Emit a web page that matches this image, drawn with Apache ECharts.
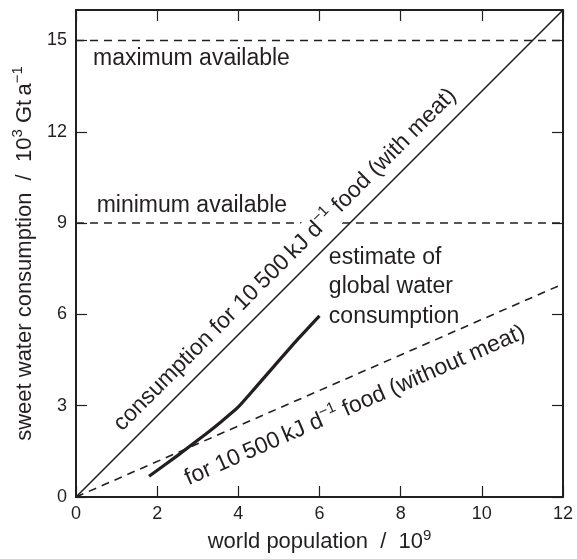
<!DOCTYPE html>
<html><head><meta charset="utf-8">
<script src="https://cdn.jsdelivr.net/npm/echarts@6/dist/echarts.min.js"></script>
<style>html,body{margin:0;padding:0;background:#fff}#c{width:577px;height:559px}</style>
</head><body><div id="c"></div>
<script>
// ---- data ----
const xTicks = [0, 2, 4, 6, 8, 10, 12];
const yTicks = [0, 3, 6, 9, 12, 15];
const xRange = [0, 12];
const yRange = [0, 16];
const withMeatPop = [0, 12];
const withMeatWater = [0, 16];
const withoutMeatPop = [0, 12];
const withoutMeatWater = [0, 7];
const availablePop = [0, 12];
const maxAvailable = [15, 15];
const minAvailable = [9, 9];
const estimatePop = [1.8, 2.5, 3.2, 3.6, 4.0, 4.4, 4.85, 5.45, 6.0];
const estimateWater = [0.68, 1.36, 2.07, 2.5, 2.96, 3.56, 4.25, 5.16, 5.95];

const INK = '#231f20';
const FONT = "'Liberation Sans', Arial, Helvetica, sans-serif";
const zip = (a, b) => a.map((v, i) => [v, b[i]]);

const richBase = {
  a: { fontSize: 23, fontFamily: FONT, color: INK, fill: INK },
  s: { fontSize: 15, fontFamily: FONT, color: INK, fill: INK, padding: [0, 0, 14, 0] }
};
const richAxis = {
  a: { fontSize: 22, fontFamily: FONT, color: INK },
  s: { fontSize: 15, fontFamily: FONT, color: INK, padding: [0, 0, 14, 0] }
};

function axisCommon(extra) {
  return Object.assign({
    type: 'value',
    axisLine: { show: true, onZero: false, lineStyle: { color: INK, width: 2 } },
    splitLine: { show: false }
  }, extra);
}

const chart = echarts.init(document.getElementById('c'), null, { renderer: 'canvas' });
const option = {
  animation: false,
  backgroundColor: '#fff',
  grid: { left: 76, right: 14, top: 10, bottom: 62 },
  xAxis: [
    axisCommon({
      position: 'bottom', min: xRange[0], max: xRange[1], interval: 2,
      axisTick: { inside: true, length: 11, customValues: xTicks, lineStyle: { color: INK, width: 1.2 } },
      axisLabel: { customValues: xTicks, fontSize: 18, fontFamily: FONT, color: INK, margin: 8 },
      name: '{a|world population  /  10}{s|9}',
      nameLocation: 'middle', nameGap: 26,
      nameTextStyle: { rich: richAxis }
    }),
    axisCommon({
      position: 'top', min: xRange[0], max: xRange[1], interval: 2,
      axisTick: { inside: true, length: 11, customValues: xTicks, lineStyle: { color: INK, width: 1.2 } },
      axisLabel: { show: false }
    })
  ],
  yAxis: [
    axisCommon({
      position: 'left', min: yRange[0], max: yRange[1], interval: 1,
      axisTick: { inside: true, length: 11, customValues: yTicks, lineStyle: { color: INK, width: 1.2 } },
      axisLabel: { customValues: yTicks, fontSize: 18, fontFamily: FONT, color: INK, margin: 9 },
      name: '{a|sweet water consumption  /  10}{s|3}{a| Gt\u2009a}{s|\u22121}',
      nameLocation: 'middle', nameGap: 34, nameRotate: 90,
      nameTextStyle: { rich: richAxis }
    }),
    axisCommon({
      position: 'right', min: yRange[0], max: yRange[1], interval: 1,
      axisTick: { inside: true, length: 11, customValues: yTicks, lineStyle: { color: INK, width: 1.2 } },
      axisLabel: { show: false }
    })
  ],
  series: [
    { name: 'with meat', type: 'line', data: zip(withMeatPop, withMeatWater), symbol: 'none',
      lineStyle: { color: INK, width: 1.6 }, z: 3 },
    { name: 'without meat', type: 'line', data: zip(withoutMeatPop, withoutMeatWater), symbol: 'none',
      lineStyle: { color: INK, width: 1.6, type: [8, 6] } },
    { name: 'maximum available', type: 'line', data: zip(availablePop, maxAvailable), symbol: 'none',
      lineStyle: { color: INK, width: 1.6, type: [8, 6] } },
    { name: 'minimum available', type: 'line', data: zip(availablePop, minAvailable), symbol: 'none',
      lineStyle: { color: INK, width: 1.6, type: [8, 6] } },
    { name: 'estimate', type: 'line', data: zip(estimatePop, estimateWater), symbol: 'none', smooth: 0.2,
      lineStyle: { color: INK, width: 3.2 }, z: 4 }
  ]
};
chart.setOption(option);

function px(x, y) { return chart.convertToPixel({ gridIndex: 0 }, [x, y]); }
function slopeAngle(pops, waters) {
  const a = px(pops[0], waters[0]), b = px(pops[1], waters[1]);
  return Math.atan2(a[1] - b[1], b[0] - a[0]);
}
function onLine(pops, waters, x) {
  return waters[0] + (waters[1] - waters[0]) * (x - pops[0]) / (pops[1] - pops[0]);
}

const angMeat = slopeAngle(withMeatPop, withMeatWater);
const footMeat = px(5.5, onLine(withMeatPop, withMeatWater, 5.5));
const cMeat = [footMeat[0] - Math.sin(angMeat) * 20, footMeat[1] - Math.cos(angMeat) * 20];

const angNo = slopeAngle(withoutMeatPop, withoutMeatWater);
const footNo = px(6.6, onLine(withoutMeatPop, withoutMeatWater, 6.6));
const cNo = [footNo[0] + Math.sin(angNo) * 28, footNo[1] + Math.cos(angNo) * 28];

const pMax = px(0.42, 14.4);
const pMin = px(0.51, 9.57);
const pEst = px(6.23, 6.9);

chart.setOption({
  graphic: [
    { type: 'text', x: cMeat[0], y: cMeat[1], rotation: angMeat, z: 10,
      style: { text: '{a|consumption for 10\u2009500\u2009kJ d}{s|\u22121}{a| food (with meat)}', rich: richBase,
        align: 'center', verticalAlign: 'middle', backgroundColor: '#fff', padding: [0, 3] } },
    { type: 'text', x: cNo[0], y: cNo[1], rotation: angNo, z: 10,
      style: { text: '{a|for 10\u2009500\u2009kJ d}{s|\u22121}{a| food (without meat)}', rich: richBase,
        align: 'center', verticalAlign: 'middle' } },
    { type: 'text', x: pMax[0], y: pMax[1], z: 10,
      style: { text: 'maximum available', fontSize: 23, fontFamily: FONT, fill: INK, align: 'left', verticalAlign: 'middle' } },
    { type: 'text', x: pMin[0], y: pMin[1], z: 10,
      style: { text: 'minimum available', fontSize: 23, fontFamily: FONT, fill: INK, align: 'left', verticalAlign: 'middle' } },
    { type: 'text', x: pEst[0], y: pEst[1], z: 10,
      style: { text: 'estimate of\nglobal water\nconsumption', fontSize: 23, lineHeight: 29.5, fontFamily: FONT, fill: INK, align: 'left', verticalAlign: 'middle' } }
  ]
});
</script>
</body></html>
